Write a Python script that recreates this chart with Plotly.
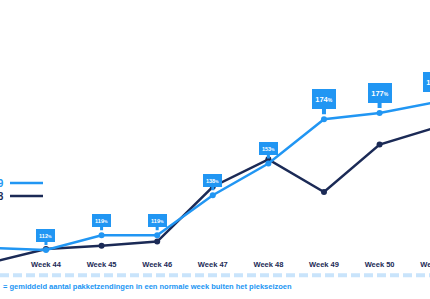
import plotly.graph_objects as go

weeks = ["Week 43", "Week 44", "Week 45", "Week 46", "Week 47", "Week 48", "Week 49", "Week 50", "Week 51"]
series_2019 = [113, 112, 119, 119, 138, 153, 174, 177, 182]
series_2018 = [106, 112.5, 114, 116, 142, 155, 139.5, 162, 170]
labels_2019 = ["", "112", "119", "119", "138", "153", "174", "177", "182"]
big_label = [False, False, False, False, False, False, True, True, True]
baseline = 100
legend_names = ["2019", "2018"]
note = "= gemiddeld aantal pakketzendingen in een normale week buiten het piekseizoen"

LIGHT = "#2196F3"
NAVY = "#1B2A56"
DASH = "#C9E4FB"
W, H = 460, 299
FONT = "Arial, Liberation Sans, sans-serif"

fig = go.Figure()
fig.add_trace(go.Scatter(x=weeks, y=series_2018, mode="lines+markers",
                         line=dict(color=NAVY, width=2.5), marker=dict(size=6, color=NAVY),
                         name=legend_names[1], cliponaxis=True))
fig.add_trace(go.Scatter(x=weeks, y=series_2019, mode="lines+markers",
                         line=dict(color=LIGHT, width=2.5), marker=dict(size=6, color=LIGHT),
                         name=legend_names[0], cliponaxis=True))

# baseline dashed line (100%)
fig.add_shape(type="line", xref="paper", yref="y", x0=0, x1=1, y0=baseline, y1=baseline,
              line=dict(color=DASH, width=4, dash="9px,4px"), layer="below")

annotations = []
for w, v, lab, big in zip(weeks, series_2019, labels_2019, big_label):
    if not lab:
        continue
    if big:
        txt = f"<b>{lab}<span style='font-size:5px'>%</span></b>"
        annotations.append(dict(x=w, y=v, xref="x", yref="y", text=txt, showarrow=True,
                                ax=0, ay=-20, arrowhead=0, arrowwidth=4, arrowcolor=LIGHT,
                                standoff=5, bgcolor=LIGHT, bordercolor=LIGHT, borderpad=1,
                                width=20, height=16, font=dict(family=FONT, size=7.5, color="white")))
    else:
        txt = f"<b>{lab}<span style='font-size:4px'>%</span></b>"
        annotations.append(dict(x=w, y=v, xref="x", yref="y", text=txt, showarrow=True,
                                ax=0, ay=-15, arrowhead=0, arrowwidth=3, arrowcolor=LIGHT,
                                standoff=5, bgcolor=LIGHT, bordercolor=LIGHT, borderpad=1,
                                width=15, height=9, font=dict(family=FONT, size=5.5, color="white")))

# legend (text to the left of the line)
for name, color, ypx in [(legend_names[0], LIGHT, 183), (legend_names[1], NAVY, 196)]:
    annotations.append(dict(x=6 / W, y=1 - ypx / H, xref="paper", yref="paper", text=f"<b>{name}</b>",
                            showarrow=False, xanchor="right", yanchor="middle",
                            font=dict(family=FONT, size=10, color=color)))
    fig.add_shape(type="line", xref="paper", yref="paper", x0=10 / W, x1=43 / W,
                  y0=1 - ypx / H, y1=1 - ypx / H, line=dict(color=color, width=2.5))

annotations.append(dict(x=1 / W, y=1 - 286 / H, xref="paper", yref="paper", text=f"<b>{note}</b>",
                        showarrow=False, xanchor="left", yanchor="middle",
                        font=dict(family=FONT, size=7.5, color=LIGHT)))

fig.update_layout(
    width=W, height=H, margin=dict(l=0, r=0, t=0, b=0),
    paper_bgcolor="white", plot_bgcolor="white", showlegend=False,
    annotations=annotations,
    xaxis=dict(type="category", categoryorder="array", categoryarray=weeks,
               range=[0.173, 0.173 + W / 55.6], showgrid=False, zeroline=False, showline=False,
               ticks="", anchor="free", position=(H - 258) / H,
               tickfont=dict(family=FONT, size=7.5, color=NAVY), tickprefix="<b>", ticksuffix="</b>"),
    yaxis=dict(range=[88.8, 230.5], visible=False, domain=[0, 1]),
)

fig.write_html("out.html")
